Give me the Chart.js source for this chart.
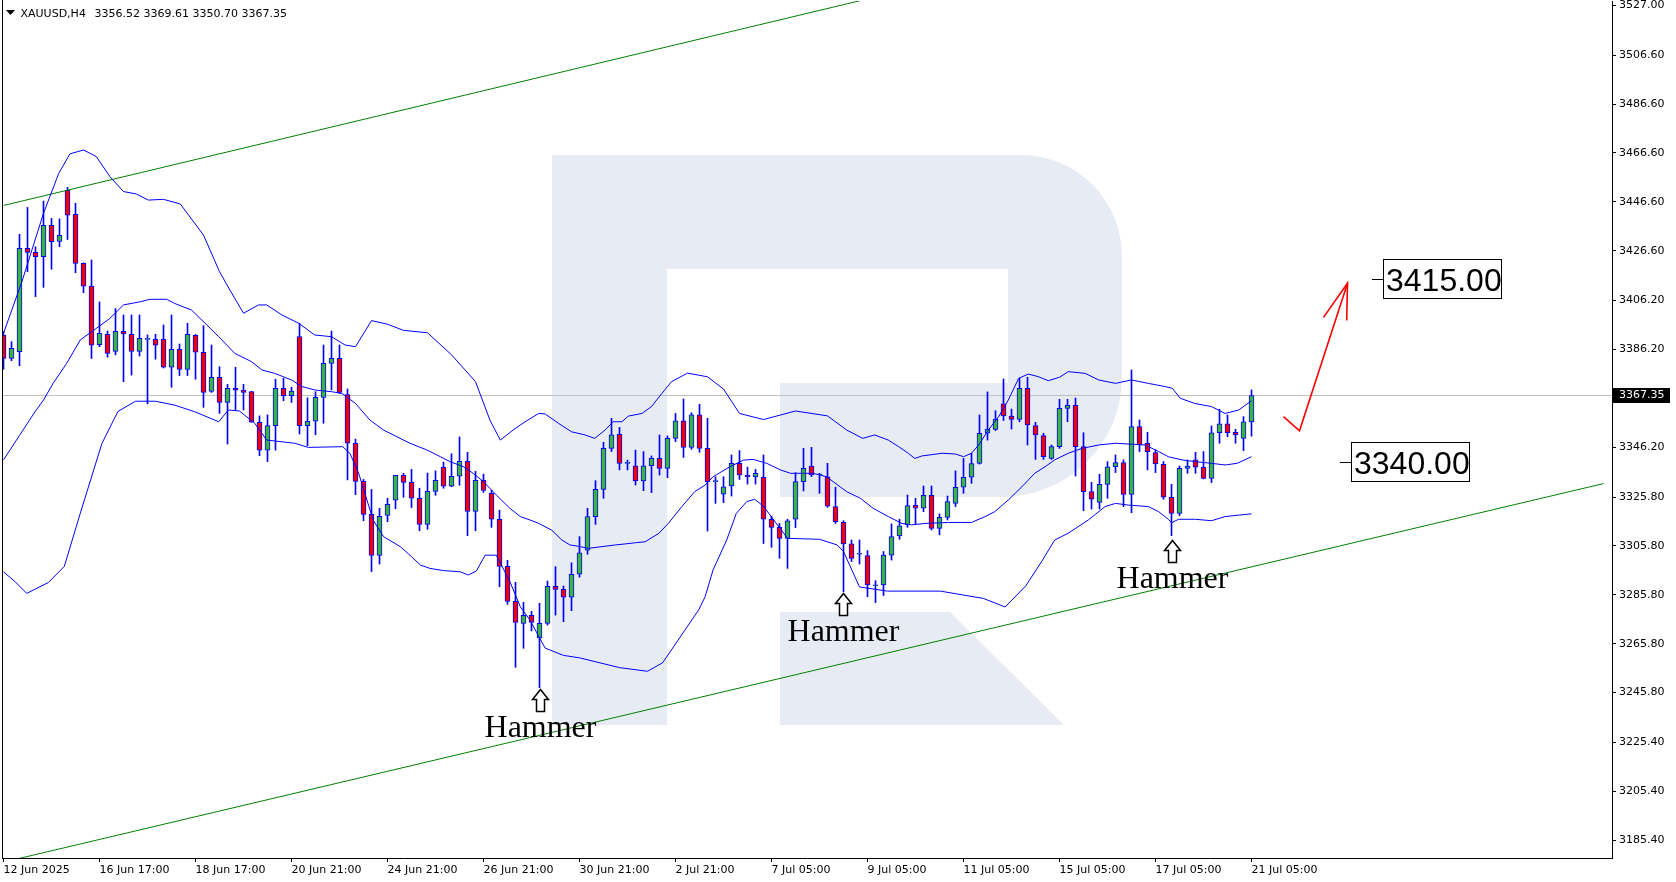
<!DOCTYPE html>
<html>
<head>
<meta charset="utf-8">
<title>XAUUSD H4</title>
<script src="https://cdn.jsdelivr.net/npm/chart.js@4.4.1/dist/chart.umd.min.js"></script>
<style>
  html, body { margin: 0; padding: 0; background: #ffffff; }
  #wrap { width: 1676px; height: 882px; }
</style>
</head>
<body>
<div id="wrap"><canvas id="chart" width="1676" height="882"></canvas></div>
<script>
// ---- candles (H4 bars, 12 Jun 21:00 .. 21 Jul 05:00) ----
const opens = [
  3392.1, 3382.5, 3385.3, 3427.6, 3425.9, 3424.1, 3437.0, 3430.4, 3451.3, 3441.5,
  3421.4, 3412.1, 3388.1, 3392.4, 3385.4, 3393.6, 3392.4, 3385.4, 3390.3, 3390.3,
  3390.3, 3378.9, 3386.2, 3378.0, 3392.0, 3385.0, 3369.0, 3374.8, 3364.5, 3370.3,
  3369.6, 3368.9, 3356.4, 3345.0, 3355.0, 3370.3, 3367.3, 3391.5, 3355.0, 3356.8,
  3366.6, 3380.5, 3382.5, 3367.7, 3347.8, 3332.2, 3318.7, 3301.9, 3318.3, 3324.5,
  3334.7, 3331.8, 3325.3, 3314.6, 3328.1, 3337.9, 3330.2, 3334.3, 3340.4, 3319.9,
  3332.6, 3327.3, 3316.7, 3297.4, 3283.1, 3274.1, 3277.4, 3268.1, 3274.1, 3289.3,
  3288.0, 3284.8, 3294.2, 3304.1, 3317.8, 3328.9, 3345.7, 3351.5, 3339.6, 3338.6,
  3332.4, 3338.6, 3341.6, 3337.5, 3349.8, 3357.0, 3346.1, 3359.4, 3345.7, 3332.1,
  3327.0, 3330.3, 3339.6, 3334.8, 3334.0, 3333.9, 3316.7, 3313.4, 3308.9, 3316.7,
  3332.1, 3338.5, 3334.8, 3334.1, 3321.9, 3315.4, 3306.6, 3302.4, 3301.8, 3289.5,
  3289.8, 3302.0, 3309.9, 3314.4, 3322.4, 3321.2, 3326.5, 3313.0, 3317.5, 3323.2,
  3329.8, 3333.9, 3339.6, 3351.9, 3353.5, 3363.9, 3358.9, 3357.6, 3370.3, 3355.0,
  3350.9, 3341.6, 3346.4, 3362.1, 3363.3, 3346.4, 3328.0, 3323.6, 3331.0, 3338.2,
  3339.9, 3326.9, 3354.6, 3347.8, 3344.0, 3339.2, 3325.7, 3319.1, 3337.5, 3341.0,
  3338.0, 3333.4, 3352.1, 3355.7, 3352.3, 3349.8, 3356.52
];
const highs = [
  3393.5, 3389.4, 3433.3, 3444.3, 3428.2, 3446.9, 3439.8, 3439.6, 3452.5, 3446.0,
  3421.6, 3422.8, 3405.6, 3393.7, 3402.9, 3400.3, 3400.3, 3400.3, 3392.1, 3392.4,
  3396.2, 3400.3, 3388.4, 3396.9, 3392.3, 3395.9, 3388.0, 3379.1, 3371.9, 3378.9,
  3371.9, 3369.0, 3359.0, 3359.4, 3374.0, 3374.4, 3370.7, 3396.9, 3366.4, 3368.9,
  3388.0, 3393.7, 3388.0, 3370.0, 3349.5, 3333.0, 3328.9, 3321.2, 3325.3, 3334.7,
  3335.5, 3337.1, 3329.4, 3335.6, 3336.5, 3340.1, 3343.5, 3350.4, 3344.1, 3336.3,
  3335.2, 3328.5, 3320.4, 3299.9, 3290.9, 3282.7, 3279.0, 3282.3, 3291.4, 3297.3,
  3289.4, 3298.9, 3309.6, 3321.2, 3332.5, 3348.2, 3358.0, 3354.3, 3340.9, 3345.0,
  3344.4, 3342.6, 3351.2, 3350.8, 3360.0, 3365.9, 3360.3, 3363.7, 3358.0, 3334.1,
  3334.1, 3343.0, 3344.8, 3338.0, 3337.1, 3343.0, 3318.0, 3315.0, 3316.7, 3335.8,
  3345.7, 3346.1, 3335.5, 3339.6, 3329.8, 3316.1, 3308.2, 3308.2, 3303.9, 3291.6,
  3303.5, 3314.8, 3316.7, 3326.6, 3325.3, 3330.3, 3330.3, 3318.9, 3326.2, 3336.5,
  3341.6, 3343.7, 3359.4, 3368.8, 3361.1, 3374.1, 3361.8, 3374.4, 3374.8, 3356.4,
  3351.9, 3347.1, 3365.8, 3365.8, 3366.3, 3352.1, 3331.8, 3335.1, 3340.3, 3343.0,
  3341.0, 3377.8, 3357.3, 3352.3, 3345.1, 3340.3, 3331.0, 3338.5, 3341.0, 3344.1,
  3344.4, 3354.9, 3361.7, 3359.4, 3353.5, 3358.7, 3369.61
];
const lows = [
  3378.1, 3381.6, 3379.5, 3418.0, 3407.8, 3411.6, 3419.0, 3428.2, 3431.2, 3417.6,
  3409.4, 3382.5, 3387.3, 3383.0, 3384.0, 3373.0, 3375.7, 3383.5, 3363.9, 3382.2,
  3378.6, 3370.7, 3375.5, 3375.5, 3374.0, 3362.5, 3368.6, 3360.0, 3347.5, 3361.4,
  3361.4, 3356.4, 3342.7, 3340.3, 3345.0, 3365.2, 3364.5, 3351.6, 3346.8, 3351.3,
  3356.0, 3369.6, 3368.2, 3332.8, 3326.8, 3316.1, 3295.3, 3298.4, 3315.7, 3321.0,
  3325.7, 3321.5, 3312.0, 3312.6, 3326.5, 3329.4, 3330.0, 3330.6, 3310.0, 3312.0,
  3327.7, 3313.4, 3289.1, 3281.9, 3256.1, 3263.9, 3271.0, 3247.8, 3273.4, 3277.5,
  3274.8, 3279.3, 3293.0, 3302.4, 3314.6, 3325.3, 3344.4, 3336.9, 3336.9, 3330.7,
  3328.4, 3327.6, 3334.8, 3333.7, 3348.5, 3342.0, 3345.3, 3344.1, 3311.9, 3323.2,
  3323.5, 3326.2, 3333.0, 3331.1, 3331.1, 3306.8, 3305.2, 3300.7, 3296.6, 3313.3,
  3328.3, 3334.1, 3327.3, 3321.6, 3315.0, 3287.1, 3299.4, 3298.4, 3285.0, 3282.6,
  3285.5, 3300.0, 3308.5, 3313.4, 3314.8, 3319.8, 3312.3, 3310.3, 3316.4, 3321.9,
  3327.3, 3331.4, 3339.3, 3349.1, 3353.0, 3357.1, 3353.6, 3356.6, 3347.1, 3341.2,
  3341.2, 3341.2, 3345.7, 3356.6, 3334.4, 3320.2, 3320.9, 3320.9, 3325.3, 3335.8,
  3321.9, 3319.4, 3344.4, 3336.9, 3335.8, 3324.9, 3310.0, 3318.2, 3335.5, 3335.5,
  3333.2, 3331.7, 3347.8, 3350.5, 3347.8, 3344.8, 3350.70
];
const closes = [
  3382.5, 3386.6, 3427.6, 3425.9, 3424.1, 3437.0, 3430.3, 3432.9, 3441.1, 3421.4,
  3412.1, 3387.9, 3392.8, 3384.6, 3393.6, 3392.5, 3385.4, 3390.7, 3390.3, 3387.9,
  3378.9, 3386.2, 3378.0, 3392.4, 3385.1, 3368.6, 3374.8, 3364.5, 3370.3, 3369.5,
  3368.6, 3356.4, 3345.0, 3355.0, 3370.3, 3367.3, 3369.2, 3355.0, 3356.8, 3366.6,
  3380.5, 3382.5, 3368.6, 3347.8, 3332.2, 3318.7, 3301.9, 3317.9, 3322.8, 3334.7,
  3331.8, 3325.3, 3314.6, 3328.1, 3332.6, 3330.2, 3334.3, 3340.4, 3319.9, 3332.6,
  3328.5, 3316.7, 3297.4, 3283.1, 3274.5, 3277.4, 3274.5, 3274.1, 3289.3, 3288.0,
  3284.8, 3294.2, 3303.0, 3317.8, 3328.9, 3345.7, 3351.2, 3339.6, 3339.6, 3332.4,
  3338.6, 3341.6, 3337.5, 3349.8, 3357.0, 3346.1, 3359.4, 3345.7, 3332.1, 3332.1,
  3330.0, 3339.6, 3334.8, 3334.0, 3335.5, 3316.7, 3313.4, 3308.9, 3316.1, 3332.1,
  3337.5, 3334.8, 3334.8, 3322.1, 3315.7, 3306.6, 3300.7, 3302.4, 3289.8, 3289.5,
  3302.0, 3309.6, 3314.0, 3322.3, 3321.2, 3326.5, 3313.0, 3317.5, 3323.9, 3329.8,
  3333.9, 3339.5, 3351.9, 3353.6, 3357.7, 3359.0, 3357.6, 3370.3, 3355.3, 3351.2,
  3342.3, 3346.4, 3362.1, 3363.3, 3346.4, 3328.0, 3324.9, 3331.0, 3338.2, 3339.9,
  3326.9, 3354.6, 3347.1, 3344.4, 3339.3, 3325.7, 3319.1, 3337.5, 3338.5, 3338.0,
  3333.4, 3352.1, 3355.7, 3352.1, 3351.2, 3356.6, 3367.35
];

// ---- Bollinger bands as [bar, price] ----
const bbUpper = [
  [0, 3392.8], [2.3, 3413.9], [5, 3441.9], [6.9, 3458.2], [8.3, 3466.2], [10, 3467.8],
  [11.6, 3465.1], [13.3, 3456.9], [15, 3450.8], [16.6, 3449.8], [18.1, 3447.3], [20, 3447.6],
  [22.1, 3445.7], [25, 3433], [27, 3418], [28.3, 3410.5], [30, 3401.0], [31.9, 3404.4],
  [32.9, 3404.4], [34.8, 3400.3], [36.9, 3396.9], [38.9, 3392.1], [41, 3391.4], [42.7, 3388.0],
  [44, 3387.3], [46, 3398], [48, 3396.5], [50, 3394], [53, 3393], [56, 3384], [59, 3373],
  [60.8, 3357.3], [62.1, 3349.1], [63.7, 3353.2], [65.2, 3356.6], [66.9, 3360.0], [67.7, 3359.8],
  [69.4, 3355.9], [71, 3352.5], [72.7, 3351.2], [73.9, 3349.8], [75.2, 3353.2], [76.2, 3356.6],
  [77.3, 3356.6], [78.1, 3358.9], [79.8, 3360.0], [81, 3362.8], [82.3, 3368.2], [83.5, 3373],
  [85.5, 3376.5], [88, 3375], [90, 3370], [92, 3360], [95, 3357.5], [99, 3361], [103, 3359],
  [105.4, 3353.2], [107.4, 3349.8], [108.9, 3351.2], [110.6, 3349.1], [111.9, 3346.4], [113.1, 3343.7],
  [113.9, 3341.6], [114.8, 3342.6], [117.3, 3343.7], [119, 3343.4], [120, 3342.3], [121, 3343.7],
  [121.9, 3347.1], [123.1, 3353.2], [124.4, 3358.7], [125.6, 3365.5], [126.9, 3374.4], [128.1, 3376.1],
  [129.3, 3375.1], [130.6, 3373.4], [132, 3374.8], [133.1, 3377.1], [135.2, 3376.4], [136.9, 3373.7],
  [139, 3372.3], [141, 3373.7], [143.1, 3372.3], [145.2, 3371.0], [146.1, 3370.3], [147.1, 3366.2],
  [148.9, 3364.1], [151, 3362.8], [152.7, 3360.0], [154.4, 3361.4], [156, 3365.2]
];
const bbMiddle = [
  [0, 3341], [2, 3351], [4, 3361], [5, 3365.5], [6.2, 3372.3], [7.9, 3380.5], [9.6, 3390.1],
  [11.6, 3394.8], [13.3, 3398.9], [15, 3404.4], [17.1, 3405.7], [18.3, 3406.7], [20.4, 3406.7],
  [21.4, 3405.0], [23.5, 3402.3], [25.2, 3396.9], [26.9, 3391.4], [28.9, 3384.6], [31, 3381.2],
  [32.3, 3377.8], [33.9, 3376.4], [36, 3373.7], [37.3, 3371.0], [38.9, 3369.6], [41, 3368.9],
  [42.3, 3368.2], [44, 3364.1], [45.8, 3357.3], [47.5, 3353.2], [50.8, 3347.8], [52.9, 3345.1],
  [54.6, 3342.3], [55.8, 3340.3], [57.5, 3338.2], [58.7, 3335.5], [60, 3332.1], [61.6, 3326.6],
  [63.3, 3321.2], [64.6, 3317.8], [65.8, 3316.4], [66.9, 3315.0], [68.5, 3312.3], [69.8, 3308.2],
  [70.8, 3306.2], [72.1, 3305.5], [73.1, 3304.8], [74.8, 3305.5], [76.5, 3306.2], [77.7, 3306.6],
  [79, 3307.1], [80.2, 3307.5], [81.9, 3310.9], [83.1, 3315.0], [84.8, 3321.9], [86.4, 3328.0],
  [87.7, 3330.7], [88.7, 3334.1], [90.8, 3338.2], [92.5, 3340.9], [93.7, 3341.2], [95.4, 3339.6],
  [97.1, 3336.9], [98.4, 3335.5], [101.2, 3335.5], [102.9, 3334.1], [103.7, 3332.1], [105.4, 3328.0],
  [107.1, 3325.3], [108.7, 3321.2], [110.6, 3317.8], [112.3, 3315.0], [113.5, 3314.4], [115.2, 3315.0],
  [118.1, 3315.4], [121, 3315.4], [122.7, 3317.8], [123.9, 3319.8], [125.6, 3324.6], [127.3, 3330.0],
  [128.9, 3335.5], [130.2, 3338.2], [131.4, 3341.0], [133.1, 3343.7], [134.8, 3345.7], [136.9, 3347.1],
  [139, 3347.8], [142.7, 3347.1], [144.4, 3344.4], [145.6, 3342.3], [147.3, 3341.0], [148.9, 3340.3],
  [151, 3339.6], [152.7, 3338.9], [154.2, 3339.6], [156, 3342.3]
];
const bbLower = [
  [0, 3295.2], [1.5, 3291], [2.9, 3286.4], [5.6, 3290.8], [7.6, 3297.4], [9.6, 3319.2],
  [12.3, 3347.7], [14.3, 3360.8], [16.5, 3365], [19, 3365], [21.4, 3363.4], [23.9, 3360.7],
  [26.9, 3356.6], [28.1, 3361.4], [29.5, 3361], [31.4, 3356.0], [32.9, 3349.1], [36.4, 3347.8],
  [38.1, 3346.1], [42.4, 3346.4], [43.3, 3343.7], [44.4, 3335.5], [46.2, 3316.4], [47.5, 3309.6],
  [49.6, 3305.5], [51, 3301.4], [52.1, 3298.0], [53.3, 3296.6], [55, 3295.7], [57.1, 3295.2],
  [58.1, 3293.9], [59.1, 3295.5], [60.2, 3302.0], [61.6, 3302.0], [63.3, 3291.2], [64.6, 3280.9],
  [65.8, 3275.5], [67.7, 3264], [70, 3261], [72, 3260], [77, 3256], [80.5, 3254.5], [82.4, 3258],
  [85.1, 3271], [86.9, 3279.6], [87.7, 3285.0], [88.7, 3296.0], [90.4, 3308.2], [91.6, 3319.1],
  [92.9, 3323.9], [93.9, 3324.9], [95, 3322], [98, 3308.9], [102, 3308.5], [104.2, 3306.2],
  [105, 3303.5], [107, 3289], [110.5, 3287.3], [117.1, 3287.3], [122.5, 3284.3], [125.2, 3280.8],
  [127.8, 3289.5], [129.8, 3299.6], [131.4, 3308.2], [133.1, 3311.0], [135.6, 3316.4], [137.7, 3321.9],
  [139, 3323.2], [140.6, 3322.5], [143.1, 3321.9], [144.4, 3319.8], [145.6, 3316.7], [146.0, 3315.3],
  [146.9, 3316.7], [149, 3316.7], [151, 3316.1], [152.7, 3317.8], [154.4, 3318.4], [156, 3318.9]
];

// ---- drawn objects ----
const channelUpper = [[0, 3445.1], [200, 3601.6]];
const channelLower = [[0, 3176.4], [200, 3331.3]];
const lastPrice = 3367.35;
const arrowLine = [[160, 3358.7], [162, 3352.9], [168, 3413.3]];
const arrowHead = [[165, 3399.3], [168, 3413.3], [167.9, 3398.0]];
const targetLevels = [3415.00, 3340.00];
const targetBars = [171, 167];
const hammerBars = [67, 105, 146];
const hammerPrices = [3247.1, 3286.4, 3308.3];

// ---- axes ----
const xTickBars = [0, 12, 24, 36, 48, 60, 72, 84, 96, 108, 120, 132, 144, 156];
const xTickLabels = ['12 Jun 2025', '16 Jun 17:00', '18 Jun 17:00', '20 Jun 21:00', '24 Jun 21:00',
  '26 Jun 21:00', '30 Jun 21:00', '2 Jul 21:00', '7 Jul 05:00', '9 Jul 05:00', '11 Jul 05:00',
  '15 Jul 05:00', '17 Jul 05:00', '21 Jul 05:00'];
const yTickValues = [3527.00, 3506.60, 3486.60, 3466.60, 3446.60, 3426.60, 3406.20, 3386.20,
  3346.20, 3325.80, 3305.80, 3285.80, 3265.80, 3245.80, 3225.40, 3205.40, 3185.40];

const BULL = '#3cb43c';
const BEAR = '#f00000';
const BAR_LINE = '#0000ff';
const pts = arr => arr.map(p => ({ x: p[0], y: p[1] }));

Chart.defaults.font.family = 'DejaVu Sans';
Chart.defaults.font.size = 11;
Chart.defaults.color = '#000000';

// watermark logo, pixel geometry of the picture
function drawWatermark(ctx) {
  ctx.fillStyle = '#e7ecf4';
  ctx.beginPath();
  ctx.moveTo(552, 155);
  ctx.lineTo(1021, 155);
  ctx.arcTo(1122, 155, 1122, 256, 101);
  ctx.lineTo(1122, 377);
  ctx.arcTo(1122, 497, 1002, 497, 120);
  ctx.lineTo(780, 497);
  ctx.lineTo(780, 383);
  ctx.lineTo(1008, 383);
  ctx.lineTo(1008, 269);
  ctx.lineTo(667, 269);
  ctx.lineTo(667, 725);
  ctx.lineTo(552, 725);
  ctx.closePath();
  ctx.fill();
  ctx.beginPath();
  ctx.moveTo(780, 612);
  ctx.lineTo(950, 612);
  ctx.lineTo(1064, 725);
  ctx.lineTo(780, 725);
  ctx.closePath();
  ctx.fill();
}

const overlay = {
  id: 'overlay',
  beforeDatasetsDraw(chart) {
    const { ctx, chartArea: a } = chart;
    ctx.save();
    ctx.beginPath();
    ctx.rect(a.left, a.top, a.right - a.left, a.bottom - a.top);
    ctx.clip();
    drawWatermark(ctx);
    ctx.restore();
  },
  afterDatasetsDraw(chart) {
    const { ctx, scales: { x, y } } = chart;
    ctx.save();
    // hammer marks
    hammerBars.forEach((i, k) => {
      const cx = Math.round(x.getPixelForValue(i)) + 0.5;
      const top = Math.round(y.getPixelForValue(hammerPrices[k])) + 0.5;
      ctx.beginPath();
      ctx.moveTo(cx, top);
      ctx.lineTo(cx + 8, top + 10);
      ctx.lineTo(cx + 4, top + 10);
      ctx.lineTo(cx + 4, top + 22);
      ctx.lineTo(cx - 4, top + 22);
      ctx.lineTo(cx - 4, top + 10);
      ctx.lineTo(cx - 8, top + 10);
      ctx.closePath();
      ctx.fillStyle = '#ffffff';
      ctx.fill();
      ctx.lineWidth = 1.5;
      ctx.strokeStyle = '#000000';
      ctx.stroke();
      ctx.fillStyle = '#000000';
      ctx.font = '32px "Liberation Serif"';
      ctx.textAlign = 'center';
      ctx.textBaseline = 'alphabetic';
      ctx.fillText('Hammer', cx, top + 47);
    });
    // target labels
    targetLevels.forEach((lv, k) => {
      const px = Math.round(x.getPixelForValue(targetBars[k]));
      const py = Math.round(y.getPixelForValue(lv));
      ctx.strokeStyle = '#000000';
      ctx.lineWidth = 1;
      ctx.beginPath();
      ctx.moveTo(px, py + 0.5);
      ctx.lineTo(px + 11, py + 0.5);
      ctx.stroke();
      ctx.fillStyle = '#ffffff';
      ctx.fillRect(px + 11, py - 20, 119, 40);
      ctx.strokeRect(px + 11.5, py - 19.5, 118, 39);
      ctx.fillStyle = '#000000';
      ctx.font = '32px "Liberation Sans"';
      ctx.textAlign = 'left';
      ctx.textBaseline = 'alphabetic';
      ctx.fillText(lv.toFixed(2), px + 14, py + 12);
    });
    ctx.restore();
  },
  afterDraw(chart) {
    const { ctx, chartArea: a, scales: { y } } = chart;
    ctx.save();
    // frame left
    ctx.fillStyle = '#000000';
    ctx.fillRect(a.left, 0, 1, a.bottom);
    // last price tag
    const py = y.getPixelForValue(lastPrice);
    ctx.fillStyle = '#000000';
    ctx.fillRect(a.right, Math.round(py) - 7, 58, 15);
    ctx.fillStyle = '#ffffff';
    ctx.font = '11px "DejaVu Sans"';
    ctx.textAlign = 'left';
    ctx.textBaseline = 'middle';
    ctx.fillText(lastPrice.toFixed(2), a.right + 7, Math.round(py) + 0.5);
    // title
    ctx.fillStyle = '#000000';
    ctx.beginPath();
    ctx.moveTo(6, 10);
    ctx.lineTo(15, 10);
    ctx.lineTo(10.5, 15);
    ctx.closePath();
    ctx.fill();
    ctx.textBaseline = 'alphabetic';
    ctx.fillText('XAUUSD,H4', 20.5, 16.5);
    ctx.fillText([opens[156], highs[156], lows[156], closes[156]].map(v => v.toFixed(2)).join(' '), 94.5, 16.5);
    ctx.restore();
  }
};

const ctx = document.getElementById('chart').getContext('2d');
new Chart(ctx, {
  type: 'bar',
  data: {
    datasets: [
      {
        type: 'line', label: 'price', order: 10,
        data: [{ x: -1, y: lastPrice }, { x: 210, y: lastPrice }],
        borderColor: '#c0c0c0', borderWidth: 1, pointRadius: 0
      },
      {
        label: 'wick', order: 6, grouped: false,
        data: lows.map((l, i) => ({ x: i, y: [l, highs[i]] })),
        backgroundColor: BAR_LINE, barThickness: 1, borderWidth: 0
      },
      {
        label: 'body', order: 5, grouped: false,
        data: opens.map((o, i) => ({ x: i, y: [o, closes[i]] })),
        backgroundColor: opens.map((o, i) => closes[i] >= o ? BULL : BEAR),
        borderColor: BAR_LINE, borderWidth: 1, borderSkipped: false,
        barThickness: 5, minBarLength: 1
      },
      {
        type: 'line', label: 'channel top', order: 4,
        data: pts(channelUpper), borderColor: '#008000', borderWidth: 1, pointRadius: 0
      },
      {
        type: 'line', label: 'channel bottom', order: 4,
        data: pts(channelLower), borderColor: '#008000', borderWidth: 1, pointRadius: 0
      },
      {
        type: 'line', label: 'bb upper', order: 3,
        data: pts(bbUpper), borderColor: BAR_LINE, borderWidth: 1, pointRadius: 0
      },
      {
        type: 'line', label: 'bb middle', order: 3,
        data: pts(bbMiddle), borderColor: BAR_LINE, borderWidth: 1, pointRadius: 0
      },
      {
        type: 'line', label: 'bb lower', order: 3,
        data: pts(bbLower), borderColor: BAR_LINE, borderWidth: 1, pointRadius: 0
      },
      {
        type: 'line', label: 'forecast', order: 1,
        data: pts(arrowLine), borderColor: '#ff0000', borderWidth: 1.6, pointRadius: 0
      },
      {
        type: 'line', label: 'forecast head', order: 1,
        data: pts(arrowHead), borderColor: '#ff0000', borderWidth: 1.6, pointRadius: 0
      }
    ]
  },
  options: {
    responsive: false,
    animation: false,
    devicePixelRatio: 1,
    layout: { padding: { left: 2, top: 1, right: 0, bottom: 0 } },
    plugins: { legend: { display: false }, tooltip: { enabled: false } },
    scales: {
      x: {
        type: 'linear', position: 'bottom', offset: false, bounds: 'data',
        min: -0.1875, max: 201.0625,
        afterBuildTicks: s => { s.ticks = xTickBars.map(v => ({ value: v })); },
        afterFit: s => { s.height = 24; s.paddingLeft = 0; s.paddingRight = 0; },
        ticks: {
          align: 'start', autoSkip: false, maxRotation: 0, minRotation: 0, padding: 2,
          color: '#000000',
          callback: (v, i) => xTickLabels[i]
        },
        grid: { drawOnChartArea: false, drawTicks: true, tickLength: 4, color: '#000000', offset: false },
        border: { display: true, color: '#000000' }
      },
      y: {
        type: 'linear', position: 'right', beginAtZero: false, bounds: 'data',
        min: 3178.1, max: 3528.76,
        afterBuildTicks: s => { s.ticks = yTickValues.map(v => ({ value: v })); },
        afterFit: s => { s.width = 64; s.paddingTop = 0; s.paddingBottom = 0; },
        ticks: { padding: 3, color: '#000000', callback: v => v.toFixed(2) },
        grid: { drawOnChartArea: false, drawTicks: true, tickLength: 4, color: '#000000' },
        border: { display: true, color: '#000000' }
      }
    }
  },
  plugins: [overlay]
});
</script>
</body>
</html>
